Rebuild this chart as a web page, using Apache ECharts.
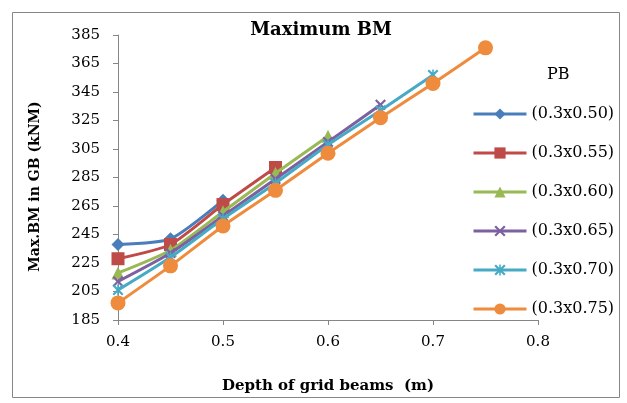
<!DOCTYPE html>
<html>
<head>
<meta charset="utf-8">
<script src="https://cdn.jsdelivr.net/npm/echarts@6/dist/echarts.min.js"></script>
<style>html,body{margin:0;padding:0;background:#fff}#c{width:627px;height:403px}</style>
</head>
<body>
<div id="c"></div>
<script>
var seriesNames = ['(0.3x0.50)', '(0.3x0.55)', '(0.3x0.60)', '(0.3x0.65)', '(0.3x0.70)', '(0.3x0.75)'];
var depthValues = [0.4, 0.45, 0.5, 0.55, 0.6, 0.65, 0.7, 0.75];
var bm050 = [238, 242, 269];
var bm055 = [228, 238, 266, 292];
var bm060 = [218, 234, 261, 288, 314];
var bm065 = [212, 232, 258, 284, 310, 336];
var bm070 = [206, 229, 256, 281, 308, 332, 357];
var bm075 = [197, 223, 251, 276, 302, 327, 351, 376];
var yTicks = [185, 205, 225, 245, 265, 285, 305, 325, 345, 365, 385];
var xTicks = [0.4, 0.5, 0.6, 0.7, 0.8];

var allValues = [bm050, bm055, bm060, bm065, bm070, bm075];
var colors = ['#4A7EBB', '#BE4B48', '#98B954', '#7D60A0', '#46AAC5', '#EE8B3C'];
var xShape = 'path://M1.4,0 L5,3.6 L8.6,0 L10,1.4 L6.4,5 L10,8.6 L8.6,10 L5,6.4 L1.4,10 L0,8.6 L3.6,5 L0,1.4 Z';
var starShape = 'path://M1.4,0 L5,3.6 L8.6,0 L10,1.4 L6.4,5 L10,8.6 L8.6,10 L5,6.4 L1.4,10 L0,8.6 L3.6,5 L0,1.4 Z M4.3,0 L5.7,0 L5.7,10 L4.3,10 Z';
var symbols = ['diamond', 'rect', 'triangle', xShape, starShape, 'circle'];
var symbolSizes = [13, 13, 13, 11, 11, 15];

function pairs(vals) {
  return vals.map(function (v, i) { return [depthValues[i], v]; });
}

var series = allValues.map(function (vals, k) {
  return {
    name: seriesNames[k],
    type: 'line',
    data: pairs(vals),
    smooth: 0.2,
    symbol: symbols[k],
    symbolSize: symbolSizes[k],
    showAllSymbol: true,
    lineStyle: { color: colors[k], width: 3 },
    itemStyle: { color: colors[k] },
    z: 2 + k
  };
});

var font = 'DejaVu Serif';
var chart = echarts.init(document.getElementById('c'), null, { renderer: 'canvas' });
chart.setOption({
  animation: false,
  backgroundColor: '#ffffff',
  title: [
    { text: 'Maximum BM', left: 316, top: 16, textAlign: 'center',
      textStyle: { fontFamily: font, fontSize: 18, fontWeight: 'bold', color: '#000' } },
    { text: 'PB', left: 542, top: 62,
      textStyle: { fontFamily: font, fontSize: 16, fontWeight: 'normal', color: '#000' } }
  ],
  graphic: [
    { type: 'rect', shape: { x: 12.5, y: 12.5, width: 607, height: 385 },
      style: { fill: 'none', stroke: '#868686', lineWidth: 1 }, silent: true, z: -1 }
  ],
  legend: {
    orient: 'vertical',
    left: 467,
    top: 101,
    itemWidth: 53,
    itemHeight: 14,
    itemGap: 23,
    lineStyle: { width: 3 },
    textStyle: { fontFamily: font, fontSize: 16, color: '#000', lineHeight: 16 },
    data: seriesNames
  },
  grid: { left: 118, right: 89, top: 35, bottom: 83, containLabel: false },
  xAxis: {
    type: 'value',
    min: xTicks[0],
    max: xTicks[xTicks.length - 1],
    interval: 0.1,
    name: 'Depth of grid beams  (m)',
    nameLocation: 'middle',
    nameGap: 59,
    nameTextStyle: { fontFamily: font, fontSize: 15, fontWeight: 'bold', color: '#000' },
    axisLine: { lineStyle: { color: '#868686', width: 1 } },
    axisTick: { show: true, length: 5, lineStyle: { color: '#868686' } },
    axisLabel: { fontFamily: font, fontSize: 15, color: '#000', margin: 15,
      formatter: function (v) { return v.toFixed(1); } },
    splitLine: { show: false }
  },
  yAxis: {
    type: 'value',
    min: yTicks[0],
    max: yTicks[yTicks.length - 1],
    interval: 20,
    name: 'Max.BM in GB (kNM)',
    nameLocation: 'middle',
    nameGap: 76,
    nameTextStyle: { fontFamily: font, fontSize: 14, fontWeight: 'bold', color: '#000', padding: [0, 18, 0, 0] },
    axisLine: { show: true, lineStyle: { color: '#868686', width: 1 } },
    axisTick: { show: true, length: 5, lineStyle: { color: '#868686' } },
    axisLabel: { fontFamily: font, fontSize: 15, color: '#000', margin: 18 },
    splitLine: { show: false }
  },
  series: series
});
</script>
</body>
</html>
